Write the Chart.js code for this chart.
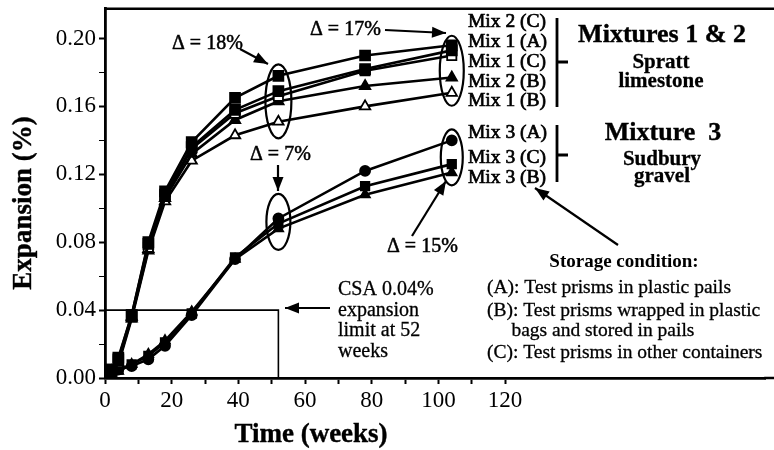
<!DOCTYPE html>
<html>
<head>
<meta charset="utf-8">
<script src="https://cdn.jsdelivr.net/npm/chart.js@4.4.1/dist/chart.umd.min.js"></script>
<style>
  body { margin: 0; background: #fff; }
  canvas { display: block; }
</style>
</head>
<body>
<canvas id="graphi" width="774" height="450"></canvas>
<script>
// datos
const weeks = [0, 1, 2, 4, 8, 13, 18, 26, 39, 52, 78, 104];

const mix2C = [0, 0.003, 0.005, 0.012, 0.037, 0.080, 0.110, 0.139, 0.165, 0.178, 0.190, 0.196];
const mix1A = [0, 0.003, 0.005, 0.011, 0.037, 0.079, 0.108, 0.136, 0.158, 0.169, 0.182, 0.193];
const mix1C = [0, 0.002, 0.004, 0.010, 0.036, 0.077, 0.107, 0.135, 0.156, 0.166, 0.181, 0.190];
const mix2B = [0, 0.002, 0.004, 0.009, 0.036, 0.076, 0.106, 0.132, 0.152, 0.163, 0.172, 0.177];
const mix1B = [0, 0.002, 0.004, 0.008, 0.035, 0.075, 0.104, 0.128, 0.143, 0.151, 0.160, 0.168];

const mix3A = [0, 0.002, 0.003, 0.005, 0.007, 0.011, 0.019, 0.037, 0.070, 0.094, 0.122, 0.140];
const mix3C = [0, 0.002, 0.003, 0.005, 0.008, 0.013, 0.021, 0.038, 0.071, 0.091, 0.113, 0.126];
const mix3B = [0, 0.002, 0.003, 0.004, 0.008, 0.014, 0.022, 0.039, 0.070, 0.088, 0.108, 0.121];

// limite CSA 0.04% a 52 semanas
const limitX = [0, 52, 52];
const limitY = [0.04, 0.04, 0];

const xTicks = [0, 10, 20, 30, 40, 50, 60, 70, 80, 90, 100, 110, 120];
const yTicks = [0, 0.02, 0.04, 0.06, 0.08, 0.10, 0.12, 0.14, 0.16, 0.18, 0.20];

const seriesLabels = ["Mix 2 (C)", "Mix 1 (A)", "Mix 1 (C)", "Mix 2 (B)", "Mix 1 (B)"];
const series3Labels = ["Mix 3 (A)", "Mix 3 (C)", "Mix 3 (B)"];
const storageLines = [
    "(A): Test prisms in plastic pails",
    "(B): Test prisms wrapped in plastic",
    "     bags and stored in pails",
    "(C): Test prisms in other containers"
];

const serif = "'Liberation Serif', 'Times New Roman', serif";

const toPoints = (ys) => weeks.map((w, i) => ({x: w, y: ys[i]}));

const makeSet = (label, ys, style, filled, radius) => ({
    label: label,
    data: toPoints(ys),
    borderColor: "#000",
    borderWidth: 2.6,
    pointStyle: style,
    pointRadius: radius,
    pointBorderWidth: 1.8,
    pointBorderColor: "#000",
    pointBackgroundColor: filled ? "#000" : "#fff",
    tension: 0
});

// texto un poco mas grueso, como en el escaneo
const heavyText = (ctx, t, x, y, w) => {
    ctx.lineWidth = w;
    ctx.strokeText(t, x, y);
    ctx.fillText(t, x, y);
};

// flechas, elipses y textos
const notes = {
    id: "notes",
    afterDatasetsDraw(chart) {
        const ctx = chart.ctx;
        const xs = chart.scales.x;
        const ys = chart.scales.y;
        const area = chart.chartArea;
        ctx.save();
        ctx.strokeStyle = "#000";
        ctx.fillStyle = "#000";

        // marco superior y eje inferior hasta el borde
        ctx.lineWidth = 2.5;
        ctx.beginPath();
        ctx.moveTo(area.left - 1, area.top);
        ctx.lineTo(chart.width, area.top);
        ctx.moveTo(area.right - 1, area.bottom);
        ctx.lineTo(chart.width, area.bottom);
        ctx.stroke();

        const ellipse = (wk, yVal, rx, ry) => {
            ctx.beginPath();
            ctx.ellipse(xs.getPixelForValue(wk), ys.getPixelForValue(yVal), rx, ry, 0, 0, Math.PI * 2);
            ctx.lineWidth = 2.2;
            ctx.stroke();
        };
        ellipse(52, 0.163, 13, 37);
        ellipse(104, 0.181, 12, 35);
        ellipse(52, 0.092, 12, 28);
        ellipse(104, 0.130, 11, 28);

        const arrow = (x1, y1, x2, y2) => {
            ctx.lineWidth = 2.2;
            ctx.beginPath();
            ctx.moveTo(x1, y1);
            ctx.lineTo(x2, y2);
            ctx.stroke();
            const a = Math.atan2(y2 - y1, x2 - x1);
            const len = 14, half = 5.5;
            ctx.beginPath();
            ctx.moveTo(x2, y2);
            ctx.lineTo(x2 - len * Math.cos(a) + half * Math.sin(a), y2 - len * Math.sin(a) - half * Math.cos(a));
            ctx.lineTo(x2 - len * Math.cos(a) - half * Math.sin(a), y2 - len * Math.sin(a) + half * Math.cos(a));
            ctx.closePath();
            ctx.fill();
        };
        arrow(240, 49, 268, 64);
        arrow(385, 30, 446, 33);
        arrow(278, 165, 278, 191);
        arrow(412, 236, 446, 181);
        arrow(618, 245, 535, 188);
        arrow(330, 308, 285, 308);

        ctx.textBaseline = "middle";
        ctx.textAlign = "left";
        ctx.font = "20px " + serif;
        heavyText(ctx, "\u0394 = 18%", 172, 44, 0.5);
        heavyText(ctx, "\u0394 = 17%", 310, 30, 0.5);
        heavyText(ctx, "\u0394 = 7%", 250, 155, 0.5);
        heavyText(ctx, "\u0394 = 15%", 387, 247, 0.5);

        ["CSA 0.04%", "expansion", "limit at 52", "weeks"].forEach((t, i) => {
            heavyText(ctx, t, 338, 290 + i * 20.5, 0.3);
        });

        ctx.font = "19.5px " + serif;
        const mixY = [22, 42, 62, 82, 101];
        seriesLabels.forEach((t, i) => heavyText(ctx, t, 468, mixY[i], 0.7));
        const mix3Y = [133, 158, 178];
        series3Labels.forEach((t, i) => heavyText(ctx, t, 468, mix3Y[i], 0.7));

        // corchetes
        ctx.lineWidth = 2.8;
        ctx.beginPath();
        ctx.moveTo(557, 18); ctx.lineTo(557, 107);
        ctx.moveTo(557, 62); ctx.lineTo(568, 62);
        ctx.moveTo(557, 125); ctx.lineTo(557, 182);
        ctx.moveTo(557, 155); ctx.lineTo(568, 155);
        ctx.stroke();

        ctx.textAlign = "center";
        ctx.font = "bold 26px " + serif;
        heavyText(ctx, "Mixtures 1 & 2", 662, 35, 0.4);
        heavyText(ctx, "Mixture  3", 663, 133, 0.4);
        ctx.font = "bold 21px " + serif;
        heavyText(ctx, "Spratt", 661, 63, 0.3);
        heavyText(ctx, "limestone", 661, 82, 0.3);
        heavyText(ctx, "Sudbury", 662, 160, 0.3);
        heavyText(ctx, "gravel", 662, 177, 0.3);

        ctx.font = "bold 19px " + serif;
        ctx.fillText("Storage condition:", 624, 262);
        ctx.textAlign = "left";
        ctx.font = "19.5px " + serif;
        const stY = [288, 311, 331, 353];
        storageLines.forEach((t, i) => heavyText(ctx, t, 487, stY[i], 0.3));

        // titulos de ejes
        ctx.font = "bold 27px " + serif;
        ctx.textAlign = "center";
        heavyText(ctx, "Time (weeks)", 311, 435, 0.4);
        ctx.translate(24, 203);
        ctx.rotate(-Math.PI / 2);
        heavyText(ctx, "Expansion (%)", 0, 0, 0.4);
        ctx.restore();
    }
};

const data = {
    datasets: [
        makeSet(seriesLabels[0], mix2C, "rect", true, 7),
        makeSet(seriesLabels[1], mix1A, "rect", true, 7),
        makeSet(seriesLabels[2], mix1C, "rect", false, 6.5),
        makeSet(seriesLabels[3], mix2B, "triangle", true, 6),
        makeSet(seriesLabels[4], mix1B, "triangle", false, 6),
        makeSet(series3Labels[0], mix3A, "circle", true, 5),
        makeSet(series3Labels[1], mix3C, "rect", true, 6),
        makeSet(series3Labels[2], mix3B, "triangle", true, 5.5),
        {
            label: "CSA limit",
            data: limitX.map((v, i) => ({x: v, y: limitY[i]})),
            borderColor: "#000",
            borderWidth: 1.6,
            pointRadius: 0,
            tension: 0
        }
    ]
};

const options = {
    responsive: false,
    animation: false,
    layout: {padding: {top: 4, right: 0, left: 0, bottom: 0}},
    plugins: {
        legend: {display: false},
        tooltip: {enabled: false}
    },
    scales: {
        x: {
            type: "linear",
            min: 0,
            max: 198,
            afterBuildTicks: (scale) => { scale.ticks = xTicks.map(v => ({value: v})); },
            afterFit: (scale) => {
                scale.height = 72;
                scale.paddingLeft = 0;
                scale.paddingRight = 0;
            },
            border: {color: "#000", width: 2.8},
            grid: {drawOnChartArea: false, tickLength: 6, tickColor: "#000", tickWidth: 2},
            ticks: {
                color: "#000",
                padding: 3,
                maxRotation: 0,
                autoSkip: false,
                font: {family: serif, size: 23},
                callback: (v) => (v % 20 === 0 ? v : "")
            }
        },
        y: {
            min: 0,
            max: 0.2175,
            afterBuildTicks: (scale) => { scale.ticks = yTicks.map(v => ({value: v})); },
            afterFit: (scale) => {
                scale.width = 105;
                scale.paddingTop = 0;
                scale.paddingBottom = 0;
            },
            border: {color: "#000", width: 2.8},
            grid: {
                drawOnChartArea: false,
                tickLength: 6,
                tickColor: "#000",
                tickWidth: (c) => (Math.round(c.tick.value * 100) % 4 === 0 ? 2 : 1)
            },
            ticks: {
                color: "#000",
                padding: 3,
                autoSkip: false,
                font: {family: serif, size: 23},
                callback: (v) => (Math.round(v * 100) % 4 === 0 ? v.toFixed(2) : "")
            }
        }
    }
};

new Chart("graphi", {type: "line", data, options, plugins: [notes]});
</script>
</body>
</html>
